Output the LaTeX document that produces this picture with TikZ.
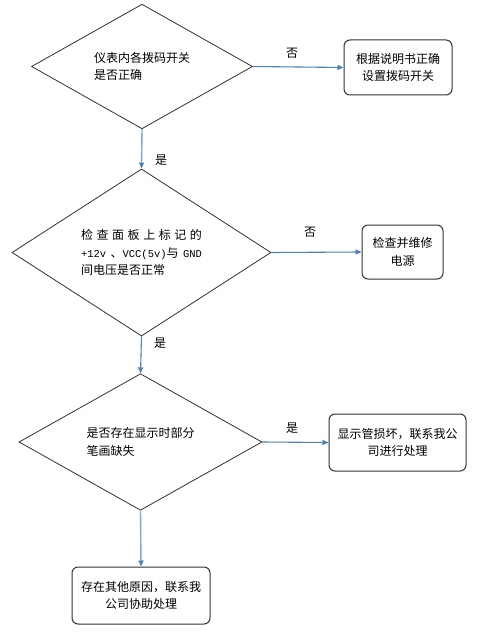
\documentclass[tikz,border=0pt]{standalone}
\usepackage{fontspec}
\setmainfont{Noto Sans CJK SC}
\newfontfamily\latinmono{Liberation Mono}
\usetikzlibrary{shapes.geometric,arrows.meta}
\definecolor{arrowblue}{RGB}{79,129,189}
\definecolor{lightblue}{RGB}{130,165,220}
\definecolor{edgegray}{RGB}{50,50,50}
\begin{document}
\begin{tikzpicture}[x=1pt,y=-1pt,
  every node/.style={font=\fontsize{12}{17.5}\selectfont, text=black},
  decision/.style={diamond, draw=edgegray, line width=0.8pt, inner sep=0pt, align=left},
  actbox/.style={draw=edgegray, line width=1pt, rounded corners=6pt, align=center, inner sep=0pt},
  flow/.style={draw=arrowblue, line width=1.1pt, -{Triangle[length=6pt,width=5pt]}},
  lflow/.style={draw=lightblue, line width=1.4pt, -{Triangle[length=6pt,width=5pt,color=arrowblue]}},
  lbl/.style={inner sep=0pt}
]
\useasboundingbox (0,0) rectangle (477,636);
\fill[white] (0,0) rectangle (477,636);

\node[decision, minimum width=221pt, minimum height=121pt] (d1) at (142,66.5)
  {仪表内各拨码开关\\是否正确};
\node[actbox, minimum width=108pt, minimum height=55pt] (b1) at (398,67.5)
  {根据说明书正确\\设置拨码开关};

\node[decision, minimum width=259pt, minimum height=129pt] (d2) at (141.5,252.5)
  {\makebox[121pt][s]{检\hfill 查\hfill 面\hfill 板\hfill 上\hfill 标\hfill 记\hfill 的}\\
   \makebox[121pt][s]{{\latinmono\fontsize{10.5}{17.5}\selectfont +12v}\hfill 、{\latinmono\fontsize{10.5}{17.5}\selectfont VCC(5v)}与\hfill {\latinmono\fontsize{10.5}{17.5}\selectfont GND}}\\
   间电压是否正常};
\node[actbox, minimum width=81pt, minimum height=54pt] (b2) at (402.5,252)
  {检查并维修\\电源};

\node[decision, minimum width=243pt, minimum height=114pt] (d3) at (140.5,442)
  {是否存在显示时部分\\笔画缺失};
\node[actbox, minimum width=137pt, minimum height=57pt] (b3) at (397.5,442.5)
  {显示管损坏，联系我公\\司进行处理};

\node[actbox, minimum width=138pt, minimum height=57pt] (b4) at (141,595.5)
  {存在其他原因，联系我\\公司协助处理};

\draw[flow] (d1.east) -- (b1.west);
\draw[lflow] (d1.south) -- (d2.north);
\draw[flow] (d2.east) -- (b2.west);
\draw[flow] (d2.south) -- (d3.north);
\draw[flow] (d3.east) -- (b3.west);
\draw[lflow] (d3.south) -- (b4.north);

\node[lbl] (n1) at (292,53) {否};
\node[lbl] (y1) at (161,160) {是};
\node[lbl] (n2) at (310,232) {否};
\node[lbl] (y2) at (160,343) {是};
\node[lbl] (y3) at (292,428) {是};
\end{tikzpicture}
\end{document}
